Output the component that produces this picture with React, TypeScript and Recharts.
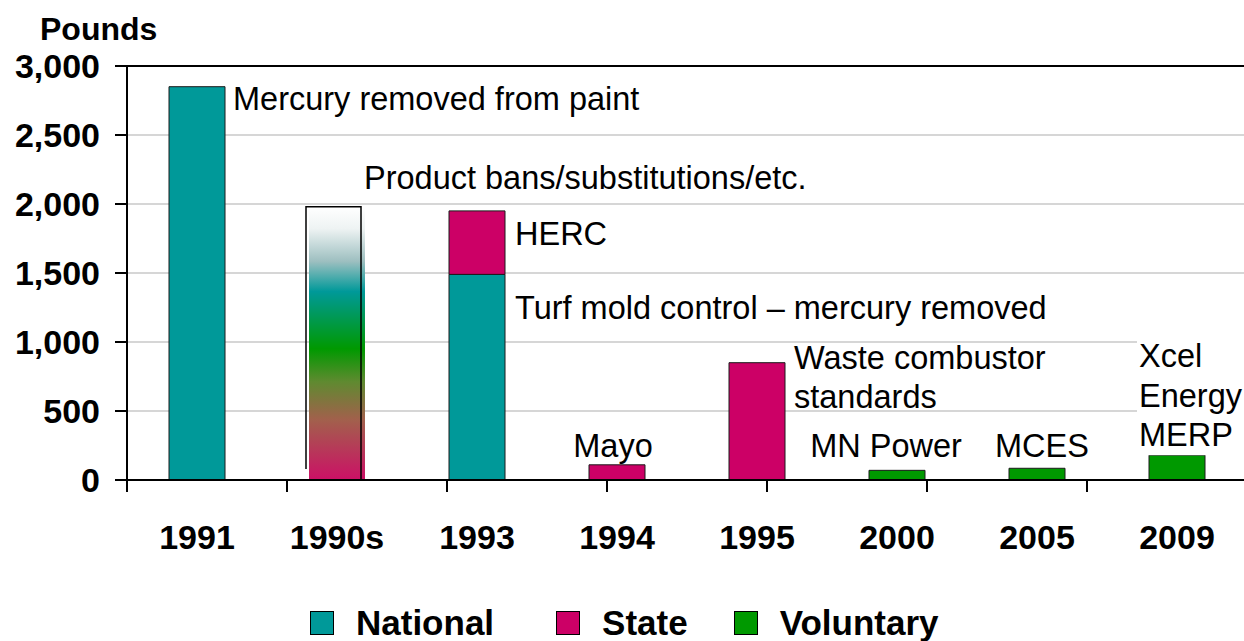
import React from 'react'
import {
  BarChart,
  Bar,
  XAxis,
  YAxis,
  CartesianGrid,
  ReferenceLine,
  LabelList,
  Legend,
} from 'recharts'

const categories = ['1991', '1990s', '1993', '1994', '1995', '2000', '2005', '2009']
const national = [2850, 0, 1490, 0, 0, 0, 0, 0]
const productBans = [0, 1980, 0, 0, 0, 0, 0, 0]
const state = [0, 0, 460, 110, 850, 0, 0, 0]
const voluntary = [0, 0, 0, 0, 0, 70, 85, 180]
const yTicks = [0, 500, 1000, 1500, 2000, 2500, 3000]
const edgeTicks = [0, 1, 2, 3, 4, 5, 6, 7, 8]

// annotation texts, by series and category
const notes = [
  { series: 'national', category: '1991', lines: ['Mercury removed from paint'] },
  { series: 'productBans', category: '1990s', lines: ['Product bans/substitutions/etc.'] },
  { series: 'state', category: '1993', lines: ['HERC'] },
  { series: 'national', category: '1993', lines: ['Turf mold control – mercury removed'] },
  { series: 'state', category: '1994', lines: ['Mayo'] },
  { series: 'state', category: '1995', lines: ['Waste combustor', 'standards'] },
  { series: 'voluntary', category: '2000', lines: ['MN Power'] },
  { series: 'voluntary', category: '2005', lines: ['MCES'] },
  { series: 'voluntary', category: '2009', lines: ['Xcel', 'Energy', 'MERP'] },
]

const data = categories.map((category, i) => ({
  category,
  national: national[i],
  productBans: productBans[i],
  state: state[i],
  voluntary: voluntary[i],
}))

const FONT = '"Liberation Sans", Arial, Helvetica, sans-serif'
const TEAL = '#009999'
const PINK = '#CC0066'
const GREEN = '#009900'

const series = [
  { key: 'national', name: 'National', color: TEAL },
  { key: 'state', name: 'State', color: PINK },
  { key: 'voluntary', name: 'Voluntary', color: GREEN },
]

// where each note sits relative to its bar segment
type Place = { from: 'right' | 'left' | 'center'; dx: number; dy: number; box?: boolean }
const placement: Record<string, Place> = {
  'national-1991': { from: 'right', dx: 8, dy: 23 },
  'productBans-1990s': { from: 'right', dx: -1, dy: -18 },
  'state-1993': { from: 'right', dx: 10, dy: 34 },
  'national-1993': { from: 'right', dx: 10, dy: 45 },
  'state-1994': { from: 'center', dx: -4, dy: -8 },
  'state-1995': { from: 'right', dx: 9, dy: 6 },
  'voluntary-2000': { from: 'center', dx: -11, dy: -13 },
  'voluntary-2005': { from: 'center', dx: 5, dy: -11 },
  'voluntary-2009': { from: 'left', dx: -10, dy: -88, box: true },
}
const LINE_H = 39.5
const legendGaps = [62, 46]

const renderNote = (seriesKey: string) => (props: any) => {
  const vb = props.viewBox || props
  const x = Number(vb.x)
  const y = Number(vb.y)
  const width = Number(vb.width)
  const category = props.value
  const note = notes.find((n) => n.series === seriesKey && n.category === category)
  if (!note) return null
  const p = placement[`${seriesKey}-${category}`]
  const anchor = p.from === 'center' ? 'middle' : 'start'
  const tx = p.from === 'right' ? x + width + p.dx : p.from === 'center' ? x + width / 2 + p.dx : x + p.dx
  const ty = y + p.dy
  return (
    <g>
      {p.box && (
        <rect x={tx - 2} y={ty - 29} width={120} height={(note.lines.length - 1) * LINE_H + 38} fill="#fff" />
      )}
      <text x={tx} y={ty} textAnchor={anchor} fontFamily={FONT} fontSize={32.5} fill="#000">
        {note.lines.map((line, i) => (
          <tspan key={i} x={tx} y={ty + i * LINE_H}>
            {line}
          </tspan>
        ))}
      </text>
    </g>
  )
}

const GradientBar = (props: any) => {
  const { x, y, width, height } = props
  if (!height) return null
  return (
    <g>
      <rect x={x} y={y} width={width} height={height} fill="url(#bansFill)" />
      <path
        d={`M${x - 3},${y + height - 11} V${y} H${x + width - 4} V${y + height}`}
        stroke="#000"
        strokeWidth={1.5}
        fill="none"
      />
    </g>
  )
}

const renderLegend = (props: any) => {
  const items = (props.payload || []).filter((p: any) => p.type !== 'none')
  return (
    <div
      style={{
        display: 'flex',
        justifyContent: 'flex-start',
        paddingLeft: 310,
        paddingTop: 11,
        fontFamily: FONT,
      }}
    >
      {items.map((p: any, i: number) => {
        const s = series.find((q) => q.name === p.value)
        return (
          <div
            key={p.value}
            style={{ display: 'flex', alignItems: 'center', gap: 22, marginRight: legendGaps[i] || 0 }}
          >
            <span
              style={{
                width: 22,
                height: 22,
                background: s ? s.color : p.color,
                border: '1px solid #000',
                display: 'inline-block',
              }}
            />
            <span style={{ fontSize: 35, fontWeight: 'bold', lineHeight: '24px', color: '#000' }}>{p.value}</span>
          </div>
        )
      })}
    </div>
  )
}

export default function App() {
  return (
    <div
      style={{
        position: 'absolute',
        top: 0,
        left: 0,
        width: 1244,
        height: 641,
        overflow: 'hidden',
        background: '#fff',
      }}
    >
      <div
        style={{
          position: 'absolute',
          left: 40,
          top: 13,
          fontFamily: FONT,
          fontWeight: 'bold',
          fontSize: 32,
          lineHeight: '32px',
          color: '#000',
        }}
      >
        Pounds
      </div>
      <BarChart
        width={1250}
        height={641}
        data={data}
        margin={{ top: 66, right: 3, left: 0, bottom: 0 }}
        barCategoryGap="30%"
      >
        <defs>
          <linearGradient id="bansFill" x1="0" y1="0" x2="0" y2="1">
            <stop offset="0" stopColor="#ffffff" />
            <stop offset="0.08" stopColor="#eef3f3" />
            <stop offset="0.2" stopColor="#9dbfc0" />
            <stop offset="0.31" stopColor={TEAL} />
            <stop offset="0.52" stopColor={GREEN} />
            <stop offset="0.64" stopColor="#5f8a30" />
            <stop offset="0.78" stopColor="#a2604c" />
            <stop offset="1" stopColor="#cc1066" />
          </linearGradient>
        </defs>
        <CartesianGrid vertical={false} stroke="#c8c8c8" strokeWidth={1.5} xAxisId="cat" />
        <ReferenceLine y={3000} stroke="#000" strokeWidth={2} xAxisId="cat" />
        <XAxis
          xAxisId={0}
          type="number"
          domain={[0, 8]}
          ticks={edgeTicks}
          interval={0}
          allowDataOverflow
          tick={() => <g />}
          tickSize={12}
          height={12}
          axisLine={{ stroke: '#000', strokeWidth: 2 }}
          tickLine={{ stroke: '#000', strokeWidth: 2 }}
        />
        <XAxis
          xAxisId="cat"
          dataKey="category"
          height={108}
          axisLine={false}
          tickLine={false}
          tickSize={0}
          tickMargin={33}
          interval={0}
          tick={{ fontFamily: FONT, fontSize: 34, fontWeight: 'bold', fill: '#000' }}
        />
        <YAxis
          width={127}
          domain={[0, 3000]}
          ticks={yTicks}
          interval={0}
          tickSize={12}
          tickMargin={15}
          tickFormatter={(v: number) => v.toLocaleString('en-US')}
          axisLine={{ stroke: '#000', strokeWidth: 2 }}
          tickLine={{ stroke: '#000', strokeWidth: 2 }}
          tick={{ fontFamily: FONT, fontSize: 34, fontWeight: 'bold', fill: '#000' }}
        />
        <Legend verticalAlign="bottom" height={41} content={renderLegend} wrapperStyle={{ left: 0, width: 1244 }} />
        <Bar xAxisId="cat" dataKey="national" name="National" stackId="a" fill={TEAL} stroke="#1a1a1a" strokeWidth={1} isAnimationActive={false}>
          <LabelList dataKey="category" content={renderNote('national')} />
        </Bar>
        <Bar
          xAxisId="cat"
          dataKey="productBans"
          name="Product bans"
          stackId="a"
          fill={TEAL}
          legendType="none"
          shape={GradientBar}
          isAnimationActive={false}
        >
          <LabelList dataKey="category" content={renderNote('productBans')} />
        </Bar>
        <Bar xAxisId="cat" dataKey="state" name="State" stackId="a" fill={PINK} stroke="#1a1a1a" strokeWidth={1} isAnimationActive={false}>
          <LabelList dataKey="category" content={renderNote('state')} />
        </Bar>
        <Bar xAxisId="cat" dataKey="voluntary" name="Voluntary" stackId="a" fill={GREEN} stroke="#1a1a1a" strokeWidth={1} isAnimationActive={false}>
          <LabelList dataKey="category" content={renderNote('voluntary')} />
        </Bar>
      </BarChart>
    </div>
  )
}
